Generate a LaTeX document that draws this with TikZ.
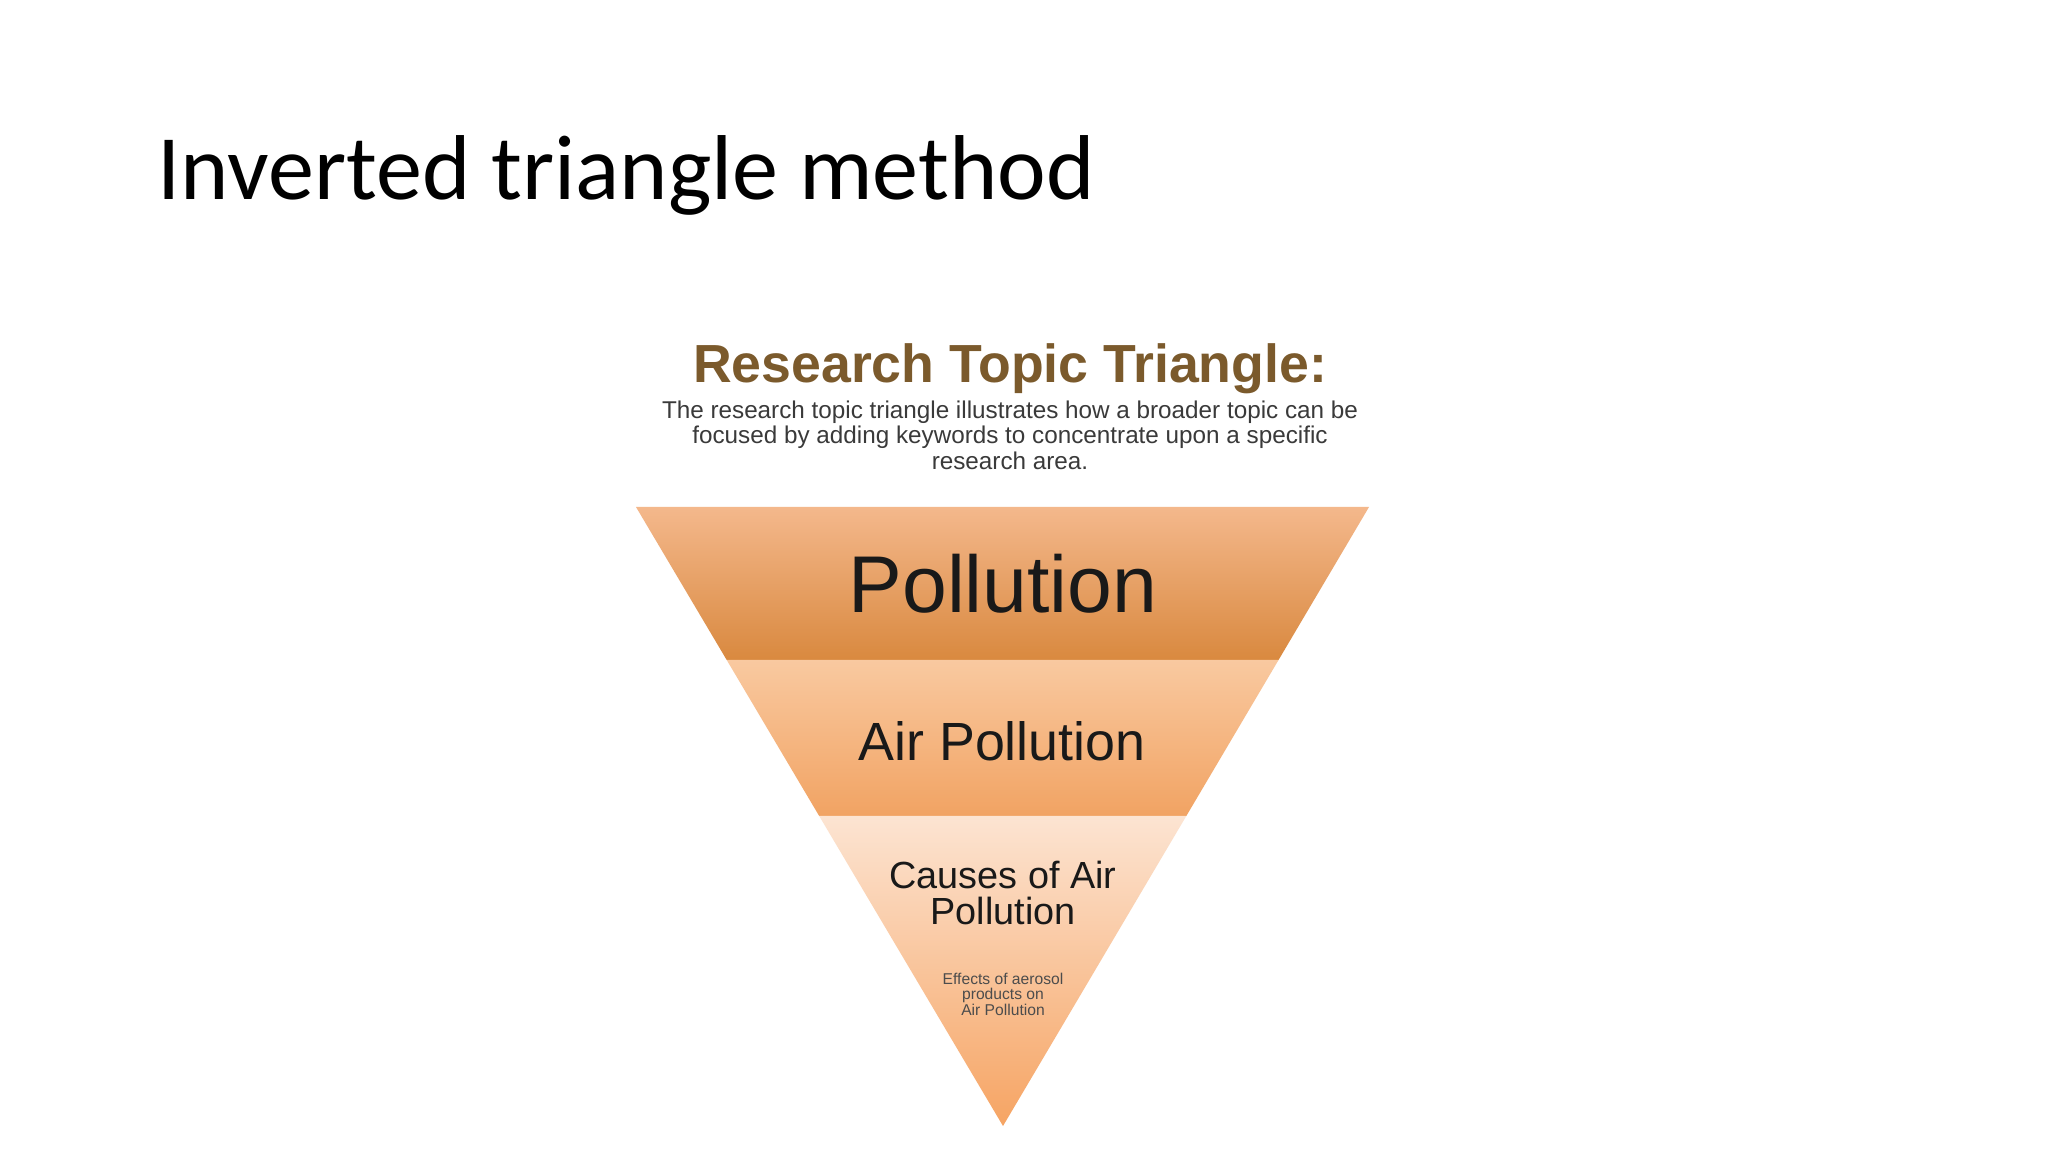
\documentclass[tikz,border=0pt]{standalone}
\usepackage{fontspec}
\setmainfont{Liberation Sans}
\newfontfamily\slidefont{Carlito}
\usetikzlibrary{calc, positioning}
\definecolor{headbrown}{HTML}{7B5A2C}
\definecolor{blurbgray}{HTML}{3A3A3A}
\definecolor{bandA}{HTML}{F4B88C}
\definecolor{bandAlow}{HTML}{D9893F}
\definecolor{bandB}{HTML}{F9C9A0}
\definecolor{bandBlow}{HTML}{F1A363}
\definecolor{bandC}{HTML}{FCE4D2}
\definecolor{bandCmid}{HTML}{FAD2B3}
\definecolor{bandClow}{HTML}{F6A463}
\newcommand{\fs}[2]{\fontsize{#1}{#2}\selectfont}
\tikzset{
  label text/.style={inner sep=0pt, align=center, text=black!90},
}

\begin{document}
\begin{tikzpicture}[x=0.01cm, y=-0.01cm]
\useasboundingbox[fill=white] (0,0) rectangle (2048,1152);
% slide title
\node[anchor=base west, inner sep=0pt, font=\slidefont\fs{26.2}{30}] (title) at (157,200) {Inverted triangle method};
% triangle corners
\coordinate (tl) at (636,507);
\coordinate (tr) at (1369,507);
\coordinate (apex) at (1003,1126);
\coordinate (l1) at ($(tl)!0.247!(apex)$);
\coordinate (r1) at ($(tr)!0.247!(apex)$);
\coordinate (l2) at ($(tl)!0.499!(apex)$);
\coordinate (r2) at ($(tr)!0.499!(apex)$);
% bands
\shade[top color=bandA, bottom color=bandAlow] (tl) -- (tr) -- (r1) -- (l1) -- cycle;
\shade[top color=bandB, bottom color=bandBlow] (l1) -- (r1) -- (r2) -- (l2) -- cycle;
\shade[top color=bandC, middle color=bandCmid, bottom color=bandClow] (l2) -- (r2) -- (apex) -- cycle;
% heading
\node[anchor=base, inner sep=0pt, text=headbrown, font=\bfseries\fs{15.25}{18}] (heading) at (1010,383) {Research Topic Triangle:};
\node[label text, text=blurbgray, font=\fs{6.9}{7.25}] (blurb) at (1010,435)
  {The research topic triangle illustrates how a broader topic can be\\
   focused by adding keywords to concentrate upon a specific\\
   research area.};
% band labels
\node[label text, font=\fs{22.9}{26}] (pollution) at (1003,584) {Pollution};
\node[label text, font=\fs{15.3}{18}] (air) at (1002,741) {Air Pollution};
\node[label text, font=\fs{10.75}{10}] (causes) at (1003,893) {Causes of Air\\ Pollution};
\node[label text, text=black!70, font=\fs{4.45}{4.4}] (effects) at (1003,994) {Effects of aerosol\\ products on\\ Air Pollution};
\end{tikzpicture}
\end{document}
